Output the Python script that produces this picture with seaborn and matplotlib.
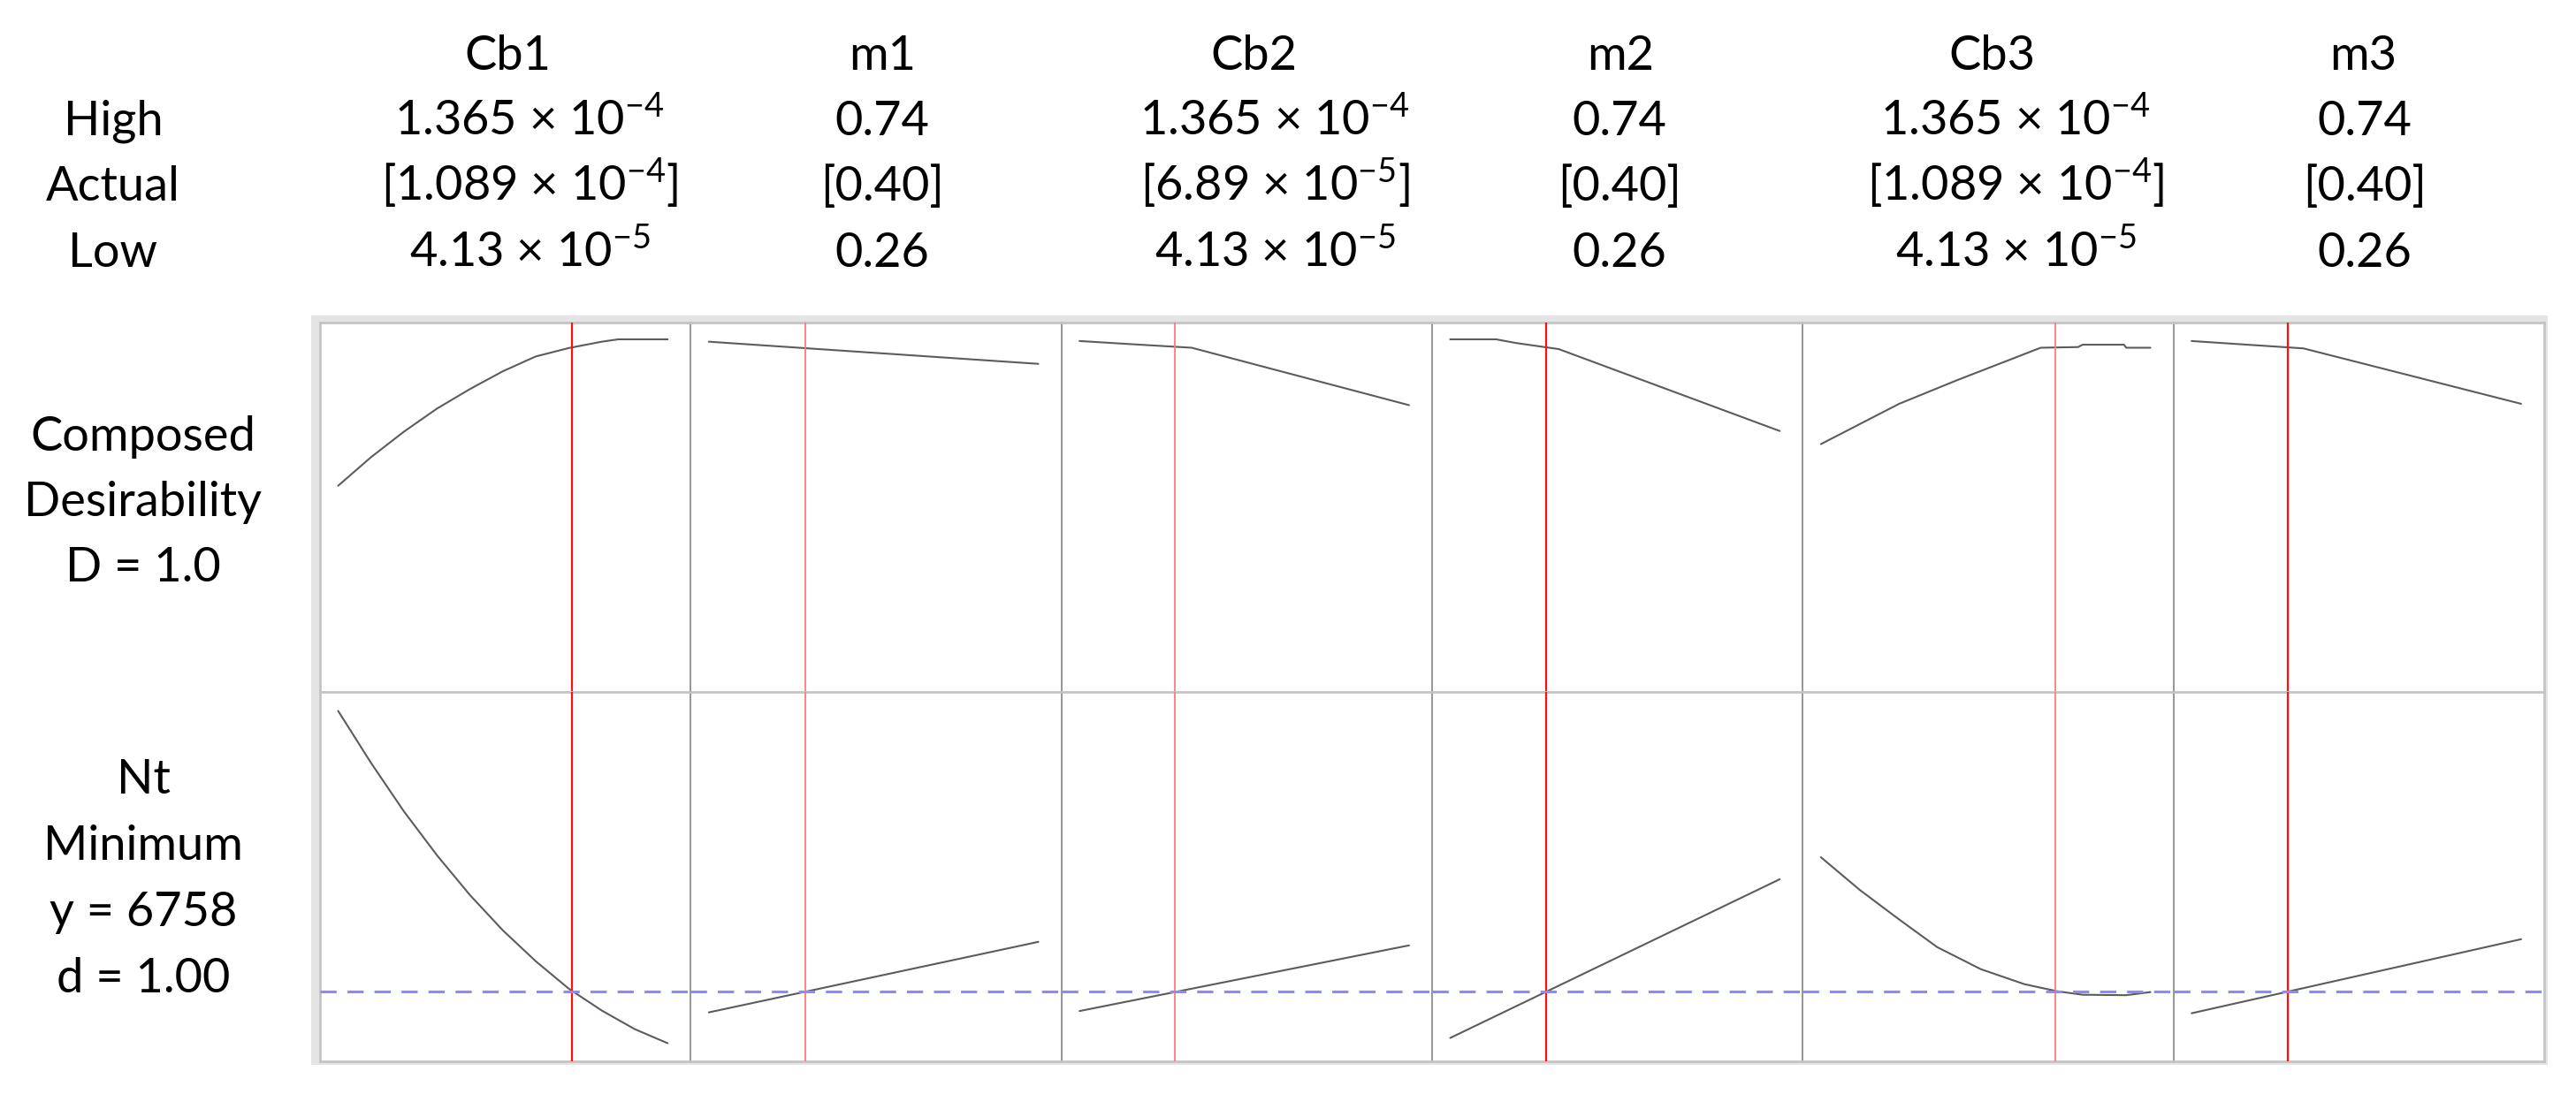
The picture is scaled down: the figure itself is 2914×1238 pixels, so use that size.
import matplotlib
matplotlib.use("Agg")
import matplotlib.pyplot as plt
from matplotlib.patches import Rectangle
import seaborn as sns

# factor columns
factors = ["Cb1", "m1", "Cb2", "m2", "Cb3", "m3"]
high_txt = ["1.365 × 10$^{-4}$", "0.74", "1.365 × 10$^{-4}$", "0.74", "1.365 × 10$^{-4}$", "0.74"]
actual_txt = ["[1.089 × 10$^{-4}$]", "[0.40]", "[6.89 × 10$^{-5}$]", "[0.40]", "[1.089 × 10$^{-4}$]", "[0.40]"]
low_txt = ["4.13 × 10$^{-5}$", "0.26", "4.13 × 10$^{-5}$", "0.26", "4.13 × 10$^{-5}$", "0.26"]

# Cb values in units of 1e-5
low_val = [4.13, 0.26, 4.13, 0.26, 4.13, 0.26]
high_val = [13.65, 0.74, 13.65, 0.74, 13.65, 0.74]
actual_val = [10.89, 0.40, 6.89, 0.40, 10.89, 0.40]

# composed desirability row
cb1_x_d = [4.13, 5.08, 6.03, 6.99, 7.94, 8.89, 9.84, 10.79, 11.75, 12.22, 13.65]
cb1_d = [0.564, 0.649, 0.725, 0.794, 0.852, 0.905, 0.949, 0.974, 0.993, 1.0, 1.0]
m1_x_d = [0.26, 0.74]
m1_d = [0.993, 0.927]
cb2_x_d = [4.13, 5.56, 7.37, 13.65]
cb2_d = [0.995, 0.986, 0.975, 0.804]
m2_x_d = [0.26, 0.327, 0.356, 0.418, 0.74]
m2_d = [1.0, 1.0, 0.989, 0.971, 0.727]
cb3_x_d = [4.13, 6.39, 8.08, 10.48, 11.56, 11.69, 12.89, 12.95, 13.65]
cb3_d = [0.688, 0.808, 0.879, 0.975, 0.977, 0.984, 0.984, 0.975, 0.975]
m3_x_d = [0.26, 0.423, 0.74]
m3_d = [0.995, 0.973, 0.808]

# Nt row
cb1_x_nt = [4.13, 5.08, 6.03, 6.99, 7.94, 8.89, 9.84, 10.79, 11.75, 12.70, 13.65]
cb1_nt = [9940, 9350, 8800, 8300, 7850, 7450, 7100, 6790, 6540, 6330, 6170]
m1_x_nt = [0.26, 0.74]
m1_nt = [6520, 7320]
cb2_x_nt = [4.13, 13.65]
cb2_nt = [6535, 7280]
m2_x_nt = [0.26, 0.74]
m2_nt = [6230, 8030]
cb3_x_nt = [4.13, 5.25, 6.37, 7.49, 8.75, 10.01, 10.95, 11.69, 12.95, 13.65]
cb3_nt = [8280, 7910, 7580, 7260, 7010, 6840, 6760, 6720, 6715, 6750]
m3_x_nt = [0.26, 0.74]
m3_nt = [6510, 7350]

nt_target = 6758

top_curves = [(cb1_x_d, cb1_d), (m1_x_d, m1_d), (cb2_x_d, cb2_d),
              (m2_x_d, m2_d), (cb3_x_d, cb3_d), (m3_x_d, m3_d)]
bot_curves = [(cb1_x_nt, cb1_nt), (m1_x_nt, m1_nt), (cb2_x_nt, cb2_nt),
              (m2_x_nt, m2_nt), (cb3_x_nt, cb3_nt), (m3_x_nt, m3_nt)]

sns.set_theme(style="white")
plt.rcParams['font.family'] = ['Lato', 'DejaVu Sans']
plt.rcParams['mathtext.fontset'] = 'custom'
plt.rcParams['mathtext.rm'] = 'Lato'
plt.rcParams['mathtext.it'] = 'Lato:italic'
plt.rcParams['mathtext.bf'] = 'Lato:bold'

W, H = 2914, 1238
fig, axes = plt.subplots(2, 6, figsize=(W / 100, H / 100), dpi=100, sharey='row')
fig.subplots_adjust(left=362 / W, right=2878 / W, top=1 - 365 / H, bottom=1 - 1201 / H,
                    wspace=0, hspace=0)

# light outer border
fig.add_artist(Rectangle((352 / W, 1 - 1205 / H), (2882 - 352) / W, (1205 - 357) / H,
                         transform=fig.transFigure, facecolor="#e4e4e4", edgecolor="none",
                         zorder=-5))

red_strong = [True, False, False, True, False, True]

for j in range(6):
    span = high_val[j] - low_val[j]
    for i, curves in enumerate([top_curves, bot_curves]):
        ax = axes[i, j]
        ax.set_facecolor("white")
        xs, ys = curves[j]
        sns.lineplot(x=xs, y=ys, ax=ax, color="#5c5c5c", lw=1.5,
                     estimator=None, sort=False, zorder=2)
        if red_strong[j]:
            ax.axvline(actual_val[j], color="#ff1010", lw=1.6, zorder=3)
        else:
            ax.axvline(actual_val[j], color="#ff7a7a", lw=1.3, zorder=3)
        if i == 1:
            ax.axhline(nt_target, color="#8a8aff", lw=2.2, ls=(0, (6, 4)), zorder=4)
        ax.set_xlim(low_val[j] - 0.055 * span, high_val[j] + 0.070 * span)
        ax.set_xticks([])
        ax.set_yticks([])
        ax.set_xlabel("")
        ax.set_ylabel("")
        for s in ax.spines.values():
            s.set_visible(True)
            s.set_color("#c4c4c4")
            s.set_linewidth(2.0)
        if j > 0:
            ax.spines['left'].set_color("#8e8e8e")
            ax.spines['left'].set_linewidth(1.3)
        if j < 5:
            ax.spines['right'].set_visible(False)
        if i == 0:
            ax.spines['bottom'].set_visible(False)

axes[0, 0].set_ylim(-0.05, 1.05)
axes[1, 0].set_ylim(5965, 10155)

fs = 39
col_title_x = [574, 998, 1418, 1833, 2253, 2673]
col_val_x = [599, 998, 1442, 1832, 2280, 2675]


def put(x, y, s):
    fig.text(x / W, 1 - y / H, s, ha='center', va='baseline', fontsize=fs, color="black")


for j in range(6):
    put(col_title_x[j], 79, factors[j])
    put(col_val_x[j], 153, high_txt[j])
    put(col_val_x[j], 227, actual_txt[j])
    put(col_val_x[j], 302, low_txt[j])

put(128, 153, "High")
put(128, 227, "Actual")
put(128, 302, "Low")

for k, line in enumerate(["Composed", "Desirability", "D = 1.0"]):
    put(162, 510 + 74 * k, line)
for k, line in enumerate(["Nt", "Minimum", "y = 6758", "d = 1.00"]):
    put(162, 898 + 75 * k, line)

fig.savefig("out.png", dpi=100)
